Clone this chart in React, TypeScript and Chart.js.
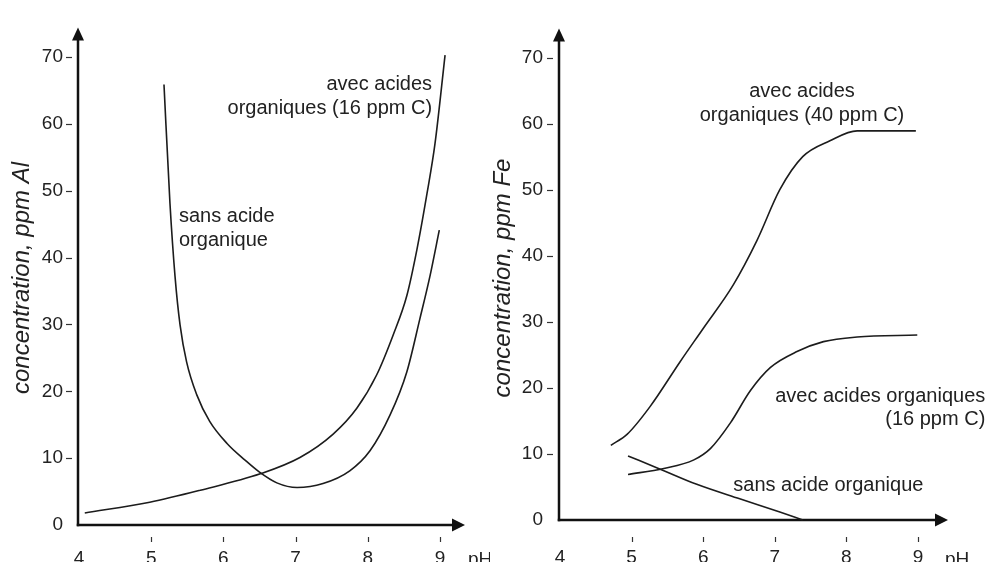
import React, { useEffect, useRef } from "react";
import { Chart, registerables } from "chart.js";

Chart.register(...registerables);

// ---------- data ----------
const phTicks = [4, 5, 6, 7, 8, 9];
const concTicks = [0, 10, 20, 30, 40, 50, 60, 70];

// Left panel: aluminium
const alSansX = [5.177, 5.26, 5.33, 5.4, 5.49, 5.63, 5.81, 6.05, 6.3, 6.5, 6.74, 7.02, 7.38, 7.75, 8.03, 8.31, 8.54, 8.72, 8.86, 8.99];
const alSansY = [65.9, 48.1, 37.2, 29.9, 24.4, 19.5, 15.5, 12.2, 9.7, 7.9, 6.3, 5.6, 6.2, 8.1, 11.1, 16.5, 22.9, 30.8, 37.2, 44.1];

const alOrgX = [4.08, 4.98, 5.68, 6.51, 7.06, 7.52, 7.85, 8.12, 8.35, 8.54, 8.68, 8.82, 8.93, 9.07];
const alOrgY = [1.8, 3.4, 5.2, 7.65, 10.1, 13.6, 17.5, 22.4, 28.4, 34.3, 41.2, 49.6, 57.0, 70.3];

// Right panel: iron
const fe40X = [4.71, 4.94, 5.26, 5.68, 6.0, 6.42, 6.75, 7.07, 7.39, 7.77, 8.15, 8.97];
const fe40Y = [11.3, 13.0, 17.2, 24.0, 29.0, 35.6, 42.3, 50, 55, 57.4, 58.9, 58.9];

const fe16X = [4.95, 5.45, 5.87, 6.1, 6.38, 6.66, 6.94, 7.31, 7.68, 8.15, 8.99];
const fe16Y = [6.9, 7.8, 9.1, 10.8, 14.7, 19.6, 23.1, 25.5, 27.0, 27.7, 28.0];

const feSansX = [4.95, 5.4, 5.91, 6.51, 7.07, 7.39];
const feSansY = [9.7, 7.7, 5.4, 3.2, 1.2, 0.0];

// annotations (anchored in data units)
const alNotes = [
  { lines: ["avec acides", "organiques (16 ppm C)"], x: 8.89, y: [65.9, 62.3], align: "right" },
  { lines: ["sans acide", "organique"], x: 5.385, y: [46.2, 42.6], align: "left" },
];
const feNotes = [
  { lines: ["avec acides", "organiques (40 ppm C)"], x: 7.38, y: [64.8, 61.3], align: "center" },
  { lines: ["avec acides organiques", "(16 ppm C)"], x: 9.94, y: [18.7, 15.2], align: "right" },
  { lines: ["sans acide organique"], x: 6.42, y: [5.3], align: "left" },
];

const FONT = "'Liberation Sans', Arial, Helvetica, sans-serif";
const INK = "#1c1c1c";

type Note = { lines: string[]; x: number; y: number[]; align: string };

type PanelCfg = {
  id: string;
  left: number;
  width: number;
  yAxisW: number;
  xAxisH: number;
  padTop: number;
  padRight: number;
  xMax: number;
  yMax: number;
  yPad: number;
  xPad: number;
  tickTop: number;
  title: string;
  titleX: number;
  titleY: number;
  phX: number;
  series: { xs: number[]; ys: number[] }[];
  notes: Note[];
};

const leftCfg: PanelCfg = {
  id: "al",
  left: 0,
  width: 490,
  yAxisW: 79,
  xAxisH: 37,
  padTop: 22,
  padRight: 25,
  xMax: 9.346,
  yMax: 74.44,
  yPad: 16,
  xPad: 22,
  tickTop: 537,
  title: "concentration, ppm Al",
  titleX: 22,
  titleY: 278,
  phX: 468,
  series: [
    { xs: alSansX, ys: alSansY },
    { xs: alOrgX, ys: alOrgY },
  ],
  notes: alNotes,
};

const rightCfg: PanelCfg = {
  id: "fe",
  left: 490,
  width: 504,
  yAxisW: 70,
  xAxisH: 42,
  padTop: 15,
  padRight: 46,
  xMax: 9.419,
  yMax: 74.42,
  yPad: 17,
  xPad: 26,
  tickTop: 537,
  title: "concentration, ppm Fe",
  titleX: 13,
  titleY: 278,
  phX: 455,
  series: [
    { xs: fe40X, ys: fe40Y },
    { xs: fe16X, ys: fe16Y },
    { xs: feSansX, ys: feSansY },
  ],
  notes: feNotes,
};

function makePlugin(cfg: PanelCfg) {
  return {
    id: "deco-" + cfg.id,
    beforeDatasetsDraw(chart: any) {
      const ctx = chart.ctx;
      const xs = chart.scales.x;
      const ys = chart.scales.y;
      const ax = Math.round(xs.getPixelForValue(4)) - 1;
      const ay = Math.round(ys.getPixelForValue(0));
      const top = chart.chartArea.top;
      const right = chart.chartArea.right;
      ctx.save();
      ctx.strokeStyle = "#111";
      ctx.fillStyle = "#111";
      ctx.lineWidth = 2.5;
      ctx.beginPath();
      ctx.moveTo(ax, ay + 1.25);
      ctx.lineTo(ax, top + 10);
      ctx.stroke();
      ctx.beginPath();
      ctx.moveTo(ax - 1.25, ay);
      ctx.lineTo(right - 10, ay);
      ctx.stroke();
      // arrow heads
      ctx.beginPath();
      ctx.moveTo(ax, top);
      ctx.lineTo(ax - 6, top + 13);
      ctx.lineTo(ax + 6, top + 13);
      ctx.closePath();
      ctx.fill();
      ctx.beginPath();
      ctx.moveTo(right, ay);
      ctx.lineTo(right - 13, ay - 6.5);
      ctx.lineTo(right - 13, ay + 6.5);
      ctx.closePath();
      ctx.fill();
      // y tick marks
      ctx.lineWidth = 1.2;
      ctx.strokeStyle = "#333";
      for (const v of concTicks) {
        if (v === 0) continue;
        const y = Math.round(ys.getPixelForValue(v)) + 0.5;
        ctx.beginPath();
        ctx.moveTo(ax - 12, y);
        ctx.lineTo(ax - 6, y);
        ctx.stroke();
      }
      // x tick marks
      for (const v of phTicks) {
        if (v === 4) continue;
        const x = Math.round(xs.getPixelForValue(v)) + 0.5;
        ctx.beginPath();
        ctx.moveTo(x, cfg.tickTop);
        ctx.lineTo(x, cfg.tickTop + 5);
        ctx.stroke();
      }
      ctx.restore();
    },
    afterDraw(chart: any) {
      const ctx = chart.ctx;
      const xs = chart.scales.x;
      const ys = chart.scales.y;
      ctx.save();
      ctx.fillStyle = "#222";
      ctx.font = `20px ${FONT}`;
      ctx.textBaseline = "middle";
      for (const n of cfg.notes) {
        ctx.textAlign = n.align as CanvasTextAlign;
        const x = xs.getPixelForValue(n.x);
        n.lines.forEach((t, i) => {
          ctx.fillText(t, x, ys.getPixelForValue(n.y[i]));
        });
      }
      // pH label
      ctx.font = `19px ${FONT}`;
      ctx.textAlign = "left";
      ctx.textBaseline = "alphabetic";
      ctx.fillText("pH", cfg.phX, 565);
      // y title
      ctx.translate(cfg.titleX, cfg.titleY);
      ctx.rotate(-Math.PI / 2);
      ctx.font = `italic 24px ${FONT}`;
      ctx.textAlign = "center";
      ctx.textBaseline = "middle";
      ctx.fillText(cfg.title, 0, 0);
      ctx.restore();
    },
  };
}

function Panel({ cfg }: { cfg: PanelCfg }) {
  const ref = useRef<HTMLCanvasElement | null>(null);
  useEffect(() => {
    if (!ref.current) return;
    const tickFont = { family: FONT, size: 19 };
    const chart = new Chart(ref.current, {
      type: "scatter",
      data: {
        datasets: cfg.series.map((s) => ({
          data: s.xs.map((x, i) => ({ x, y: s.ys[i] })),
          showLine: true,
          borderColor: INK,
          borderWidth: 1.6,
          pointRadius: 0,
          pointHoverRadius: 0,
          cubicInterpolationMode: "monotone" as const,
          fill: false,
          clip: false as any,
        })),
      },
      options: {
        responsive: false,
        animation: false,
        devicePixelRatio: 1,
        events: [],
        layout: { padding: { top: cfg.padTop, right: cfg.padRight, left: 0, bottom: 0 } },
        plugins: { legend: { display: false }, tooltip: { enabled: false }, title: { display: false } },
        scales: {
          x: {
            type: "linear",
            min: 4,
            max: cfg.xMax,
            afterFit: (s: any) => {
              s.height = cfg.xAxisH;
            },
            grid: { display: false, drawTicks: false },
            border: { display: false },
            ticks: {
              stepSize: 1,
              includeBounds: false,
              autoSkip: false,
              maxRotation: 0,
              padding: cfg.xPad,
              color: "#222",
              font: tickFont,
            },
          },
          y: {
            type: "linear",
            min: 0,
            max: cfg.yMax,
            afterFit: (s: any) => {
              s.width = cfg.yAxisW;
            },
            grid: { display: false, drawTicks: false },
            border: { display: false },
            ticks: {
              stepSize: 10,
              includeBounds: false,
              autoSkip: false,
              padding: cfg.yPad,
              color: "#222",
              font: tickFont,
            },
          },
        },
      } as any,
      plugins: [makePlugin(cfg)],
    });
    return () => chart.destroy();
  }, [cfg]);
  return (
    <canvas
      ref={ref}
      width={cfg.width}
      height={562}
      style={{ position: "absolute", left: cfg.left, top: 0, width: cfg.width, height: 562 }}
    />
  );
}

export default function App() {
  return (
    <div
      style={{
        position: "absolute",
        left: 0,
        top: 0,
        width: 994,
        height: 562,
        background: "#fff",
        overflow: "hidden",
      }}
    >
      <Panel cfg={leftCfg} />
      <Panel cfg={rightCfg} />
    </div>
  );
}
